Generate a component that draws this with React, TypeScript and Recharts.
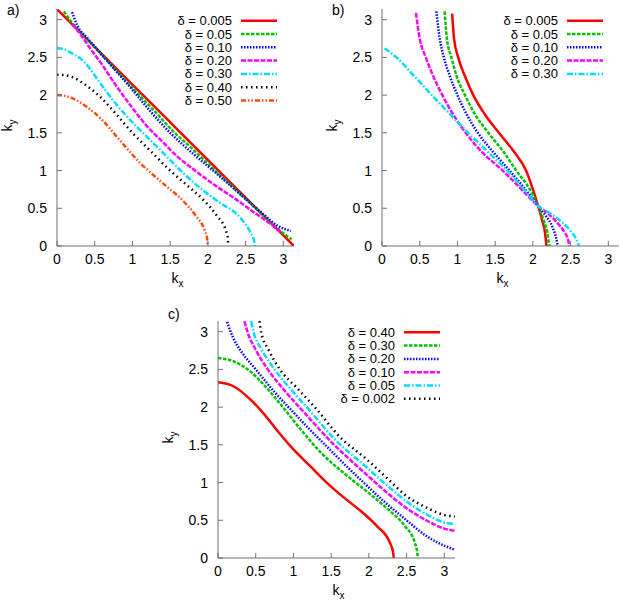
import { Line, LineChart, XAxis, YAxis } from "recharts"

type Pt = [number, number]

const K_MAX = 3.1416
const AXIS_TICKS = [0, 0.5, 1, 1.5, 2, 2.5, 3]

// panel a)
const aLabels = ["δ = 0.005", "δ = 0.05", "δ = 0.10", "δ = 0.20", "δ = 0.30", "δ = 0.40", "δ = 0.50"]
const aD0005: Pt[] = [[0, 3.14], [0.5, 2.64], [1, 2.14], [1.5, 1.64], [2, 1.14], [2.5, 0.64], [3, 0.14], [3.14, 0]]
const aD005: Pt[] = [[0.09, 3.11], [0.2, 2.96], [0.27, 2.88], [0.5, 2.63], [0.8, 2.31], [1.1, 1.99], [1.3, 1.78], [1.53, 1.53], [1.78, 1.3], [1.99, 1.1], [2.31, 0.8], [2.63, 0.5], [2.88, 0.27], [2.96, 0.2], [3.11, 0.09]]
const aD010: Pt[] = [[0.2, 3.1], [0.27, 2.92], [0.4, 2.76], [0.6, 2.53], [0.8, 2.3], [1.0, 2.07], [1.2, 1.83], [1.5, 1.5], [1.83, 1.2], [2.07, 1.0], [2.3, 0.8], [2.53, 0.6], [2.76, 0.4], [2.92, 0.27], [3.1, 0.2]]
const aD020: Pt[] = [[0.2, 2.94], [0.3, 2.82], [0.44, 2.62], [0.6, 2.4], [0.78, 2.13], [1.0, 1.83], [1.2, 1.58], [1.39, 1.39], [1.58, 1.2], [1.83, 1.0], [2.13, 0.78], [2.4, 0.6], [2.62, 0.44], [2.82, 0.3], [2.96, 0.19]]
const aD030: Pt[] = [[0, 2.62], [0.08, 2.61], [0.17, 2.57], [0.35, 2.45], [0.6, 2.12], [0.8, 1.86], [1.0, 1.64], [1.2, 1.44], [1.32, 1.32], [1.44, 1.2], [1.64, 1.0], [1.86, 0.8], [2.12, 0.6], [2.45, 0.35], [2.57, 0.17], [2.61, 0.08], [2.62, 0]]
const aD040: Pt[] = [[0, 2.27], [0.1, 2.265], [0.2, 2.24], [0.4, 2.12], [0.6, 1.95], [0.8, 1.73], [1.0, 1.5], [1.25, 1.25], [1.5, 1.0], [1.73, 0.8], [1.95, 0.6], [2.12, 0.4], [2.24, 0.2], [2.265, 0.1], [2.27, 0]]
const aD050: Pt[] = [[0, 2.0], [0.1, 1.99], [0.2, 1.96], [0.4, 1.84], [0.6, 1.67], [0.8, 1.44], [1.0, 1.21], [1.1, 1.1], [1.21, 1.0], [1.44, 0.8], [1.67, 0.6], [1.84, 0.4], [1.96, 0.2], [1.99, 0.1], [2.0, 0]]

// panel b)
const bLabels = ["δ = 0.005", "δ = 0.05", "δ = 0.10", "δ = 0.20", "δ = 0.30"]
const bD0005: Pt[] = [[0.93, 3.08], [0.955, 2.75], [1.01, 2.5], [1.1, 2.25], [1.21, 2.0], [1.36, 1.75], [1.55, 1.5], [1.75, 1.25], [1.91, 1.0], [2.0, 0.75], [2.07, 0.53], [2.12, 0.35], [2.16, 0.18], [2.18, 0]]
const bD005: Pt[] = [[0.83, 3.11], [0.86, 2.75], [0.92, 2.5], [0.99, 2.25], [1.1, 2.0], [1.23, 1.75], [1.41, 1.5], [1.61, 1.25], [1.78, 1.0], [1.96, 0.75], [2.07, 0.53], [2.14, 0.35], [2.19, 0.18], [2.21, 0.05], [2.22, 0]]
const bD010: Pt[] = [[0.72, 3.11], [0.765, 2.75], [0.82, 2.5], [0.9, 2.25], [1.0, 2.0], [1.12, 1.75], [1.27, 1.5], [1.47, 1.25], [1.69, 1.0], [1.9, 0.75], [2.07, 0.53], [2.17, 0.4], [2.26, 0.25], [2.31, 0.1], [2.33, 0]]
const bD020: Pt[] = [[0.45, 3.09], [0.5, 2.75], [0.58, 2.5], [0.68, 2.25], [0.8, 2.0], [0.94, 1.75], [1.11, 1.5], [1.32, 1.25], [1.6, 1.0], [1.85, 0.75], [2.07, 0.53], [2.2, 0.43], [2.33, 0.3], [2.42, 0.18], [2.47, 0.07], [2.48, 0]]
const bD030: Pt[] = [[0.035, 2.62], [0.19, 2.5], [0.43, 2.25], [0.66, 2.0], [0.9, 1.75], [1.14, 1.5], [1.4, 1.25], [1.66, 1.0], [1.88, 0.75], [2.07, 0.53], [2.25, 0.42], [2.38, 0.32], [2.5, 0.2], [2.57, 0.1], [2.61, 0]]

// panel c)
const cLabels = ["δ = 0.40", "δ = 0.30", "δ = 0.20", "δ = 0.10", "δ = 0.05", "δ = 0.002"]
const cD040: Pt[] = [[0, 2.33], [0.2, 2.28], [0.42, 2.11], [0.6, 1.92], [0.8, 1.67], [1.0, 1.44], [1.22, 1.22], [1.44, 1.0], [1.67, 0.8], [1.92, 0.6], [2.11, 0.42], [2.28, 0.2], [2.32, 0.08], [2.33, 0]]
const cD030: Pt[] = [[0, 2.65], [0.2, 2.61], [0.42, 2.48], [0.64, 2.26], [0.86, 2.0], [1.1, 1.7], [1.38, 1.38], [1.7, 1.1], [2.0, 0.86], [2.26, 0.64], [2.48, 0.42], [2.61, 0.2], [2.64, 0.08], [2.65, 0]]
const cD020: Pt[] = [[0.12, 3.13], [0.2, 2.92], [0.3, 2.75], [0.5, 2.5], [0.75, 2.2], [1.0, 1.93], [1.2, 1.72], [1.46, 1.46], [1.72, 1.2], [1.93, 1.0], [2.2, 0.75], [2.5, 0.5], [2.75, 0.3], [2.92, 0.2], [3.14, 0.11]]
const cD010: Pt[] = [[0.35, 3.14], [0.39, 3.0], [0.5, 2.76], [0.66, 2.5], [0.9, 2.2], [1.15, 1.92], [1.52, 1.52], [1.92, 1.15], [2.2, 0.9], [2.5, 0.66], [2.76, 0.5], [3.0, 0.39], [3.14, 0.36]]
const cD005: Pt[] = [[0.44, 3.14], [0.47, 3.0], [0.58, 2.76], [0.75, 2.5], [0.98, 2.22], [1.22, 1.95], [1.56, 1.56], [1.95, 1.22], [2.22, 0.98], [2.5, 0.75], [2.76, 0.58], [3.0, 0.47], [3.14, 0.45]]
const cD0002: Pt[] = [[0.55, 3.14], [0.57, 3.0], [0.67, 2.76], [0.82, 2.5], [1.05, 2.25], [1.3, 1.98], [1.61, 1.61], [1.98, 1.3], [2.25, 1.05], [2.5, 0.82], [2.76, 0.67], [3.0, 0.57], [3.14, 0.55]]

// gnuplot-like line types, in plotting order
const LINE_TYPES = [
  { color: "#ff0000", dash: undefined },
  { color: "#00c000", dash: "3.5 1.5" },
  { color: "#0000ff", dash: "1.5 1.5" },
  { color: "#ff00ff", dash: "5 1.5" },
  { color: "#00dcff", dash: "6 2 1.5 2" },
  { color: "#000000", dash: "1.5 3.5" },
  { color: "#ff4a10", dash: "5 2 1.5 2 1.5 2" },
]

const FRAME = "#707070"
const FONT = "'Liberation Sans', Arial, sans-serif"
const PLOT = 237
const PAD_L = 52
const PAD_T = 6
const PAD_R = 6
const PAD_B = 46

interface PanelProps {
  plotLeft: number
  plotTop: number
  curves: Pt[][]
}

function Panel({ plotLeft, plotTop, curves }: PanelProps) {
  return (
    <div style={{ position: "absolute", left: plotLeft - PAD_L, top: plotTop - PAD_T }}>
      <LineChart
        width={PLOT + PAD_L + PAD_R}
        height={PLOT + PAD_T + PAD_B}
        margin={{ top: PAD_T, right: PAD_R, left: 0, bottom: 0 }}
      >
        <XAxis
          xAxisId="b"
          type="number"
          dataKey="x"
          domain={[0, K_MAX]}
          ticks={AXIS_TICKS}
          interval={0}
          allowDataOverflow
          height={PAD_B}
          stroke={FRAME}
          tickSize={-5}
          tickMargin={13}
          tick={{ fill: "#000", fontSize: 14 }}
        />
        <XAxis
          xAxisId="t"
          orientation="top"
          type="number"
          dataKey="x"
          domain={[0, K_MAX]}
          ticks={AXIS_TICKS}
          interval={0}
          allowDataOverflow
          height={0}
          stroke={FRAME}
          tickSize={-5}
          tick={false}
        />
        <YAxis
          yAxisId="l"
          type="number"
          domain={[0, K_MAX]}
          ticks={AXIS_TICKS}
          interval={0}
          allowDataOverflow
          width={PAD_L}
          stroke={FRAME}
          tickSize={-5}
          tickMargin={15}
          tick={{ fill: "#000", fontSize: 14 }}
        />
        <YAxis
          yAxisId="r"
          orientation="right"
          type="number"
          domain={[0, K_MAX]}
          ticks={AXIS_TICKS}
          interval={0}
          allowDataOverflow
          width={0}
          stroke={FRAME}
          tickSize={-5}
          tick={false}
        />
        {curves.map((pts, i) => (
          <Line
            key={i}
            xAxisId="b"
            yAxisId="l"
            data={pts.map(([x, y]) => ({ x, y }))}
            dataKey="y"
            type="monotone"
            stroke={LINE_TYPES[i].color}
            strokeWidth={2.5}
            strokeDasharray={LINE_TYPES[i].dash}
            dot={false}
            activeDot={false}
            isAnimationActive={false}
          />
        ))}
      </LineChart>
    </div>
  )
}

interface DecorProps {
  plotLeft: number
  plotTop: number
  tag: string
  tagX: number
  tagY: number
  labels: string[]
  legendX: number
  legendY: number
}

function Decor({ plotLeft, plotTop, tag, tagX, tagY, labels, legendX, legendY }: DecorProps) {
  const cx = plotLeft + PLOT / 2 + 2
  const cy = plotTop + PLOT / 2 - 2
  const yx = plotLeft - 45
  return (
    <g>
      <text x={tagX} y={tagY} fontSize={14}>{tag}</text>
      <text x={cx} y={plotTop + 274} fontSize={14} textAnchor="middle">
        k<tspan fontSize={10} dy={4}>x</tspan>
      </text>
      <text x={yx} y={cy} fontSize={14} textAnchor="middle" transform={`rotate(-90 ${yx} ${cy})`}>
        k<tspan fontSize={10} dy={4}>y</tspan>
      </text>
      {labels.map((label, i) => {
        const y = legendY + i * 13.3
        return (
          <g key={label}>
            <text x={legendX} y={y} dy="0.35em" fontSize={13} textAnchor="end">{label}</text>
            <line
              x1={legendX + 9}
              x2={legendX + 45}
              y1={y}
              y2={y}
              stroke={LINE_TYPES[i].color}
              strokeWidth={2.5}
              strokeDasharray={LINE_TYPES[i].dash}
            />
          </g>
        )
      })}
    </g>
  )
}

export default function App() {
  return (
    <div
      style={{
        position: "absolute",
        left: 0,
        top: 0,
        width: 623,
        height: 602,
        overflow: "hidden",
        background: "#fff",
        fontFamily: FONT,
      }}
    >
      <Panel plotLeft={57} plotTop={9} curves={[aD0005, aD005, aD010, aD020, aD030, aD040, aD050]} />
      <Panel plotLeft={382} plotTop={9} curves={[bD0005, bD005, bD010, bD020, bD030]} />
      <Panel plotLeft={218} plotTop={321} curves={[cD040, cD030, cD020, cD010, cD005, cD0002]} />
      <svg
        width={623}
        height={602}
        style={{ position: "absolute", left: 0, top: 0, pointerEvents: "none", fontFamily: FONT }}
      >
        <Decor plotLeft={57} plotTop={9} tag="a)" tagX={7} tagY={15} labels={aLabels} legendX={232} legendY={20.7} />
        <Decor plotLeft={382} plotTop={9} tag="b)" tagX={332} tagY={15} labels={bLabels} legendX={558} legendY={20.7} />
        <Decor plotLeft={218} plotTop={321} tag="c)" tagX={168} tagY={319} labels={cLabels} legendX={395} legendY={332.3} />
      </svg>
    </div>
  )
}
